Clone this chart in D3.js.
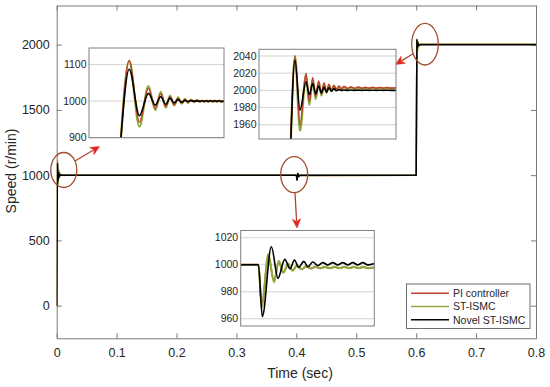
<!DOCTYPE html>
<html>
<head>
<meta charset="utf-8">
<script src="https://cdn.jsdelivr.net/npm/d3@7"></script>
<style>
  html, body { margin: 0; padding: 0; background: #ffffff; }
  svg { display: block; font-family: "Liberation Sans", Arial, sans-serif; }
</style>
</head>
<body>
<svg id="chart" width="550" height="387"></svg>
<script>
// ---------------- DATA ----------------
const seriesNames = ["PI controller", "ST-ISMC", "Novel ST-ISMC"];
const seriesColors = ["#C0432E", "#8FAA3C", "#000000"];

const xTicks = [0, 0.1, 0.2, 0.3, 0.4, 0.5, 0.6, 0.7, 0.8];
const yTicks = [0, 500, 1000, 1500, 2000];

// main plot (time in s)
const mainTime  = [0, 0.0012, 0.0022, 0.0032, 0.0042, 0.0055, 0.0075, 0.4, 0.4012, 0.4025, 0.404, 0.406, 0.6, 0.6012, 0.6022, 0.6032, 0.6045, 0.607, 0.8];
const mainPI    = [0, 1110, 943, 1035, 985, 1008, 1000, 1000, 970, 1008, 994, 998, 1000, 2040, 1960, 2020, 1990, 2003, 2003];
const mainST    = [0, 1110, 930, 1041, 975, 1010, 1000, 1000, 968, 1008, 994, 998, 1000, 2040, 1953, 2018, 1987, 2002.5, 2002.5];
const mainNovel = [0, 1087, 960, 1021, 989, 1004, 1000, 1000, 962, 1013, 990, 1000, 1000, 2035, 1977, 2010, 1995, 2000, 2000];

// inset 1 (start-up, time in ms within the zoom window)
const in1Ticks = [900, 1000, 1100];
const in1Time  = [10.3, 13.4, 16.8, 19.8, 22.1, 23.9, 25.6, 27.0, 28.4, 29.7, 30.9, 32.0, 33.0, 34.0, 35.0, 36.0, 37.0, 37.7, 38.4, 39.1, 39.8, 40.5, 41.2, 41.9, 42.6, 43.3, 44.0, 45.0];
const in1PI    = [860, 1110, 943, 1035, 980, 1020, 985, 1012, 990, 1008, 994, 1005, 996, 1003, 998, 1002, 998.5, 1001.5, 998.5, 1001.5, 998.5, 1001.5, 998.5, 1001.5, 998.5, 1001.5, 998.5, 1000];
const in1ST    = [860, 1110, 930, 1041, 975, 1025, 982, 1015, 988, 1010, 993, 1006, 995, 1004, 997, 1003, 998, 1001.5, 998, 1001.5, 998, 1001.5, 998, 1001.5, 998, 1001.5, 998, 999.5];
const in1Novel = [860, 1087, 960, 1021, 989, 1012, 991, 1008, 995, 1004, 997, 1002, 999, 1001, 1000, 1000, 999.6, 1000.4, 999.6, 1000.4, 999.6, 1000.4, 999.6, 1000.4, 999.6, 1000.4, 999.6, 1000];

// inset 2 (speed step to 2000 r/min)
const in2Ticks = [1960, 1980, 2000, 2020, 2040];
const in2Time  = [10.5, 12.0, 13.67, 15.67, 16.77, 17.9, 18.9, 19.9, 20.83, 21.67, 22.5, 23.33, 24.17, 25.0, 25.83, 26.67, 27.5, 28.33, 29.5, 30.7, 31.9, 33.1, 34.3, 35.5, 36.7, 37.9, 39.1, 40.3, 41.5, 42.7, 43.9, 45.67];
const in2PI    = [1930, 2040, 1960, 2020, 1987, 2015, 1993, 2011, 1996, 2009, 1999, 2007, 2000, 2006, 2001, 2005, 2002, 2004.5, 2002.5, 2004, 2002.5, 2003.8, 2002.5, 2003.6, 2002.6, 2003.5, 2002.6, 2003.4, 2002.7, 2003.3, 2002.8, 2003];
const in2ST    = [1930, 2040, 1953, 2018, 1983, 2012, 1990, 2009, 1994, 2007, 1997, 2006, 1999, 2005, 2000, 2004.5, 2001, 2004, 2001.5, 2003.5, 2001.8, 2003.2, 2002, 2003, 2002, 2003, 2002, 2002.8, 2002.1, 2002.7, 2002.2, 2002.5];
const in2Novel = [1930, 2035, 1977, 2010, 1995, 2008, 1996, 2005, 1997, 2004, 1998, 2003, 1999, 2002, 1999.5, 2001, 2000, 2000.5, 2000, 2000.4, 2000, 2000.3, 2000, 2000.3, 2000, 2000.2, 2000, 2000.2, 2000, 2000.2, 2000, 2000];

// inset 3 (load disturbance at 0.4 s)
const in3Ticks = [960, 980, 1000, 1020];
const in3TimeA = [0, 5.9, 7.0, 9.2, 11.1, 12.67, 14.2, 15.77, 17.27, 18.77, 20.27, 21.8, 23.3, 24.9, 26.5, 28.1, 29.7, 31.3, 32.9, 34.5, 36.1, 37.7, 39.3, 40.9, 42.5, 44.5];
const in3PI    = [1000, 1000, 970, 1006, 988, 1002, 994.5, 1000, 996, 999.2, 996.8, 998.6, 997.2, 998.4, 997.4, 998.3, 997.5, 998.3, 997.5, 998.3, 997.5, 998.3, 997.5, 998.3, 997.5, 998];
const in3ST    = [1000, 1000, 968.5, 1008, 987, 1003, 994, 1001, 995.5, 999.6, 996.6, 999, 997.2, 998.7, 997.4, 998.6, 997.5, 998.6, 997.5, 998.6, 997.5, 998.6, 997.5, 998.6, 997.5, 998];
const in3TimeB = [0, 5.9, 7.2, 10.2, 12.43, 14.67, 16.43, 17.9, 19.33, 21.0, 22.43, 24.0, 25.67, 27.33, 29.0, 30.67, 32.33, 34.0, 35.67, 37.33, 39.0, 40.67, 42.33, 44.5];
const in3Novel = [1000, 1000, 961.6, 1013.3, 990, 1004, 997, 1003.5, 998, 1002.5, 998.5, 1002, 999.5, 1001.6, 999.9, 1001.6, 999.9, 1001.6, 999.9, 1001.6, 999.9, 1001.6, 999.9, 1001];

// ---------------- DRAW ----------------
const svg = d3.select("#chart");
const axisGray = "#7a7a7a";
const textCol = "#262626";
const fontFam = "'Liberation Sans', Arial, sans-serif";

const x = d3.scaleLinear().domain([0, 0.8]).range([56.7, 536]);
const y = d3.scaleLinear().domain([-250, 2300]).range([338.3, 5.5]);

svg.append("defs").append("clipPath").attr("id", "mainClip")
  .append("rect").attr("x", 56.7).attr("y", 5.5).attr("width", 536 - 56.7).attr("height", 338.3 - 5.5);

// axes
function styleAxis(g) {
  g.attr("font-family", fontFam);
  g.selectAll("path, line").attr("stroke", axisGray).attr("stroke-width", 1);
  g.selectAll("text").attr("fill", textCol).style("font-size", "12.5px").style("font-family", fontFam);
}
svg.append("g").attr("transform", "translate(0,338.3)")
  .call(d3.axisBottom(x).tickValues(xTicks).tickSize(-5).tickSizeOuter(0).tickPadding(10)
    .tickFormat(d => d === 0 ? "0" : d3.format(".1f")(d)))
  .call(styleAxis);
svg.append("g").attr("transform", "translate(0,5.5)")
  .call(d3.axisTop(x).tickValues(xTicks).tickSize(-5).tickSizeOuter(0).tickFormat(""))
  .call(styleAxis);
svg.append("g").attr("transform", "translate(56.7,0)")
  .call(d3.axisLeft(y).tickValues(yTicks).tickSize(-5).tickSizeOuter(0).tickPadding(7).tickFormat(d3.format("d")))
  .call(styleAxis);
svg.append("g").attr("transform", "translate(536,0)")
  .call(d3.axisRight(y).tickValues(yTicks).tickSize(-5).tickSizeOuter(0).tickFormat(""))
  .call(styleAxis);

// axis labels
svg.append("text").attr("x", 300).attr("y", 377.5).attr("text-anchor", "middle")
  .attr("fill", textCol).style("font-size", "14px").text("Time (sec)");
svg.append("text").attr("transform", "translate(15.5,171) rotate(-90)").attr("text-anchor", "middle")
  .attr("fill", textCol).style("font-size", "14px").text("Speed (r/min)");

// main lines
const mainSeries = [mainPI, mainST, mainNovel];
const mainLine = d3.line().x(d => x(d[0])).y(d => y(d[1]));
const gMain = svg.append("g").attr("clip-path", "url(#mainClip)");
mainSeries.forEach((vals, i) => {
  gMain.append("path").datum(mainTime.map((t, k) => [t, vals[k]]))
    .attr("fill", "none").attr("stroke", seriesColors[i]).attr("stroke-width", 1.5)
    .attr("stroke-linejoin", "round").attr("d", mainLine);
});

// annotations: ellipses and arrows
const ellCol = "#A24E2E";
const arrowShaft = "#B0452F";
const arrowHead = "#E0281C";
const ellipses = [[63.8, 170, 13, 17.5], [294.2, 174.7, 13.5, 18], [425, 44.2, 13.3, 20.8]];
ellipses.forEach(e => {
  svg.append("ellipse").attr("cx", e[0]).attr("cy", e[1]).attr("rx", e[2]).attr("ry", e[3])
    .attr("fill", "none").attr("stroke", ellCol).attr("stroke-width", 1.3);
});
const arrows = [[75, 161, 99.5, 146.5], [295, 193, 297, 228], [413.5, 53.5, 395.5, 64.5]];
arrows.forEach(a => {
  const [x1, y1, x2, y2] = a;
  const ang = Math.atan2(y2 - y1, x2 - x1);
  const L = 9, W = 4.2;
  const bx = x2 - L * Math.cos(ang), by = y2 - L * Math.sin(ang);
  svg.append("line").attr("x1", x1).attr("y1", y1).attr("x2", bx + 2 * Math.cos(ang)).attr("y2", by + 2 * Math.sin(ang))
    .attr("stroke", arrowShaft).attr("stroke-width", 1.3);
  const px = -Math.sin(ang), py = Math.cos(ang);
  const notchX = x2 - (L - 2.5) * Math.cos(ang), notchY = y2 - (L - 2.5) * Math.sin(ang);
  svg.append("path")
    .attr("d", `M${x2},${y2} L${bx + W * px},${by + W * py} L${notchX},${notchY} L${bx - W * px},${by - W * py} Z`)
    .attr("fill", arrowHead).attr("stroke", arrowHead).attr("stroke-width", 0.5);
});

// insets
let clipId = 0;
function drawInset(box, xDom, yDom, ticks, series) {
  const ix = d3.scaleLinear().domain(xDom).range([box.x0, box.x1]);
  const iy = d3.scaleLinear().domain(yDom).range([box.y1, box.y0]);
  const g = svg.append("g");
  const id = "inClip" + (clipId++);
  g.append("clipPath").attr("id", id).append("rect")
    .attr("x", box.x0).attr("y", box.y0).attr("width", box.x1 - box.x0).attr("height", box.y1 - box.y0);
  g.append("rect").attr("x", box.x0).attr("y", box.y0).attr("width", box.x1 - box.x0).attr("height", box.y1 - box.y0)
    .attr("fill", "#ffffff");
  ticks.forEach(t => {
    g.append("line").attr("x1", box.x0).attr("x2", box.x1).attr("y1", iy(t)).attr("y2", iy(t))
      .attr("stroke", "#c8c8c8").attr("stroke-width", 0.8);
    g.append("text").attr("x", box.x0 - 2.5).attr("y", iy(t)).attr("dy", "0.35em")
      .attr("text-anchor", "end").attr("fill", textCol).style("font-size", "10.5px").text(t);
  });
  const line = d3.line().x(d => ix(d[0])).y(d => iy(d[1])).curve(d3.curveMonotoneX);
  const gl = g.append("g").attr("clip-path", `url(#${id})`);
  series.forEach(s => {
    gl.append("path").datum(s.t.map((t, k) => [t, s.v[k]]))
      .attr("fill", "none").attr("stroke", s.c).attr("stroke-width", s.w)
      .attr("stroke-linejoin", "round").attr("d", line);
  });
  g.append("rect").attr("x", box.x0).attr("y", box.y0).attr("width", box.x1 - box.x0).attr("height", box.y1 - box.y0)
    .attr("fill", "none").attr("stroke", "#808080").attr("stroke-width", 1);
}

drawInset({x0: 89, x1: 224, y0: 48, y1: 137.7}, [0, 45], [900, 1145], in1Ticks, [
  {t: in1Time, v: in1ST, c: seriesColors[1], w: 2.2},
  {t: in1Time, v: in1PI, c: seriesColors[0], w: 1.5},
  {t: in1Time, v: in1Novel, c: seriesColors[2], w: 1.6}
]);
drawInset({x0: 259, x1: 396, y0: 49.3, y1: 139}, [0, 45.67], [1943.4, 2047.8], in2Ticks, [
  {t: in2Time, v: in2ST, c: seriesColors[1], w: 2.2},
  {t: in2Time, v: in2PI, c: seriesColors[0], w: 1.5},
  {t: in2Time, v: in2Novel, c: seriesColors[2], w: 1.6}
]);
drawInset({x0: 240.7, x1: 374.3, y0: 230.5, y1: 326}, [0, 44.5], [954.6, 1025.4], in3Ticks, [
  {t: in3TimeA, v: in3PI, c: seriesColors[0], w: 1.8},
  {t: in3TimeA, v: in3ST, c: seriesColors[1], w: 2.0},
  {t: in3TimeB, v: in3Novel, c: seriesColors[2], w: 1.6}
]);

// legend
const lg = svg.append("g");
lg.append("rect").attr("x", 406.5).attr("y", 284).attr("width", 530 - 406.5).attr("height", 328.5 - 284)
  .attr("fill", "#ffffff").attr("stroke", "#6e6e6e").attr("stroke-width", 1);
const legY = [293.3, 306.5, 319.8];
seriesNames.forEach((name, i) => {
  lg.append("line").attr("x1", 411).attr("x2", 449).attr("y1", legY[i]).attr("y2", legY[i])
    .attr("stroke", seriesColors[i]).attr("stroke-width", 1.5);
  lg.append("text").attr("x", 453).attr("y", legY[i]).attr("dy", "0.36em")
    .attr("fill", textCol).style("font-size", "10.5px").text(name);
});
</script>
</body>
</html>
